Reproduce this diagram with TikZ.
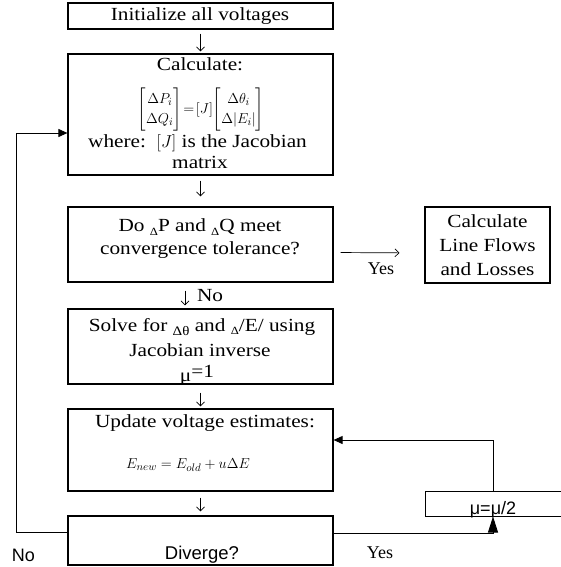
\documentclass[tikz,border=0pt]{standalone}
\usepackage{amsmath}
\usepackage{fontspec}
\setmainfont{Liberation Serif}[FakeStretch=1.15]
\newfontfamily\plainserif{Liberation Serif}
\newfontfamily\arialfont{Liberation Sans}
\usetikzlibrary{arrows.meta}
\newcommand{\lowD}{\raisebox{-3.5pt}{\fontsize{11}{11}\selectfont Δ}}
\begin{document}
\begin{tikzpicture}[x=1pt,y=-1pt,
  box/.style={draw,line width=1.2pt,rectangle,inner sep=0pt,minimum width=265pt},
  txt/.style={inner sep=0pt,font=\fontsize{18.5}{22}\selectfont},
  plain/.style={inner sep=0pt,font=\plainserif\fontsize{18}{22}\selectfont},
  sans/.style={inner sep=0pt,font=\arialfont\fontsize{18.5}{22}\selectfont},
  mathtxt/.style={inner sep=0pt,font=\fontsize{15.5}{18}\selectfont},
  thinarrow/.style={-{Straight Barb[length=4pt,width=8pt]},line width=0.7pt},
  link/.style={line width=0.9pt},
  bigtip/.style={-{Triangle[length=16pt,width=10pt]},line width=0.9pt},
  midtip/.style={-{Triangle[length=9pt,width=8pt]},line width=0.9pt}]
\useasboundingbox (0,0) rectangle (560,567);
% boxes
\node[box,minimum height=26pt] (b1) at (200.5,16) {};
\node[box,minimum height=121pt] (b2) at (200.5,114.5) {};
\node[box,minimum height=75pt] (b3) at (200.5,244.5) {};
\node[box,minimum height=75pt] (b4) at (200.5,346.5) {};
\node[box,minimum height=82pt] (b5) at (200.5,450) {};
\node[box,minimum height=49pt] (b6) at (200.5,540.5) {};
\node[box,minimum width=125pt,minimum height=76pt] (br) at (487.5,245) {};
\node[draw,line width=1pt,rectangle,inner sep=0pt,minimum width=136pt,minimum height=25pt] (mu) at (493,503.5) {};
% texts
\node[txt] (t1) at (200,16) {Initialize all voltages};
\node[txt] (t2a) at (200,64) {Calculate:};
\node[mathtxt] (t2b) at (201,109.5)
  {\renewcommand{\arraystretch}{1.12}$\begin{bmatrix}\Delta P_i\\ \Delta Q_i\end{bmatrix}\!=\![J]\!\begin{bmatrix}\Delta\theta_i\\ \Delta|E_i|\end{bmatrix}$};
\node[txt] (t2c) at (197.5,143) {where:\ \ $[J]$ is the Jacobian};
\node[txt] (t2d) at (200,162) {matrix};
\node[txt] (t3a) at (200,227) {Do \lowD P and \lowD Q meet};
\node[txt] (t3b) at (200,250) {convergence tolerance?};
\node[txt] (t4a) at (202,327) {Solve for \raisebox{-4pt}{\fontsize{13}{13}\selectfont Δθ} and \lowD/E/ using};
\node[txt] (t4b) at (200,350) {Jacobian inverse};
\node[txt,anchor=base] (t4c) at (197,381) {μ\raisebox{4pt}{=1}};
\node[txt] (t5a) at (205,423) {Update voltage estimates:};
\node[mathtxt] (t5b) at (188,465) {$E_{new}=E_{old}+u\Delta E$};
\node[sans] (t6) at (202,555) {Diverge?};
\node[txt,align=center,font=\fontsize{18.5}{24}\selectfont] (tr) at (487.5,245) {Calculate\\Line Flows\\and Losses};
\node[sans,font=\arialfont\fontsize{18}{22}\selectfont] (tmu) at (493,510) {μ=μ/2};
\node[plain] (yes1) at (381,269) {Yes};
\node[plain] (yes2) at (380,553) {Yes};
\node[txt] (no1) at (210,296) {No};
\node[sans,font=\arialfont\fontsize{18}{22}\selectfont] (no2) at (23.5,555) {No};
% connectors
\draw[thinarrow,shorten <=4pt,shorten >=2pt] (b1) -- (b2);
\draw[thinarrow,shorten <=5pt,shorten >=10pt] (b2) -- (b3);
\draw[thinarrow,shorten <=8pt,shorten >=3pt] ([xshift=-15.5pt]b3.south) -- ([xshift=-15.5pt]b4.north);
\draw[thinarrow,shorten <=8pt,shorten >=2pt] (b4) -- (b5);
\draw[thinarrow,shorten <=6pt,shorten >=4pt] (b5) -- (b6);
\draw[thinarrow,shorten <=7pt,shorten >=25pt] ([yshift=-8pt]b3.east) -- ([yshift=-8pt]br.west);
\coordinate (lcorner) at (16,133);
\draw[midtip] ([yshift=-17pt]b6.north west) -| (lcorner) -- ([yshift=-18.5pt]b2.west);
\draw[bigtip] ([yshift=-18pt]b6.north east) -| (mu.south);
\draw[midtip] (mu.north) |- ([yshift=10pt]b5.east);
\end{tikzpicture}
\end{document}
